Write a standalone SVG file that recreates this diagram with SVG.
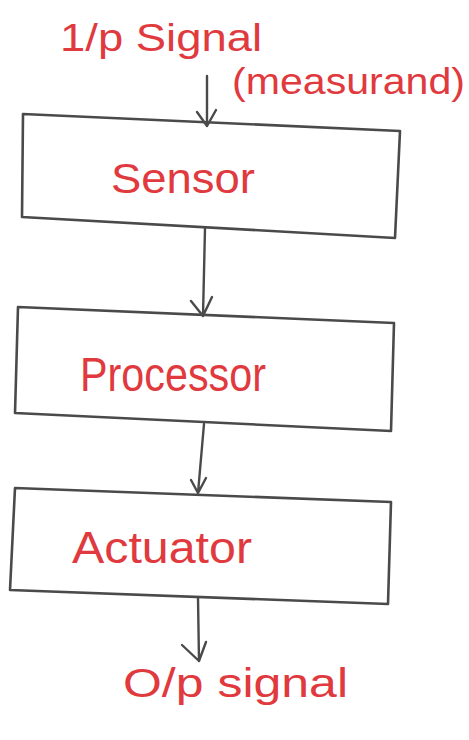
<svg xmlns="http://www.w3.org/2000/svg" width="469" height="740" viewBox="0 0 469 740">
  <style>
    .box { fill: #ffffff; stroke: #4a4a4a; stroke-width: 2.6; stroke-linejoin: round; }
    .wire { fill: none; stroke: #4a4a4a; stroke-width: 2.4; stroke-linecap: round; stroke-linejoin: round; }
    .lbl { fill: #e0393e; font-family: "Liberation Sans", "DejaVu Sans", sans-serif; }
  </style>
  <rect width="469" height="740" fill="#ffffff"/>

  <!-- input / output labels -->
  <text class="lbl" x="60" y="51" font-size="38" textLength="202" lengthAdjust="spacingAndGlyphs">1/p Signal</text>
  <text class="lbl" x="232" y="94" font-size="36" textLength="233" lengthAdjust="spacingAndGlyphs">(measurand)</text>

  <!-- Sensor -->
  <g id="sensor">
    <path class="box" d="M23,114 L400,131 L395,238 L22,217 Z"/>
    <text class="lbl" x="111" y="193" font-size="42" textLength="144" lengthAdjust="spacingAndGlyphs">Sensor</text>
  </g>

  <!-- Processor -->
  <g id="processor">
    <path class="box" d="M18,307 L394,323 L391,431 L15,413 Z"/>
    <text class="lbl" x="80" y="391" font-size="48" textLength="186" lengthAdjust="spacingAndGlyphs">Processor</text>
  </g>

  <!-- Actuator -->
  <g id="actuator">
    <path class="box" d="M15,488 L391,502 L388,604 L10,590 Z"/>
    <text class="lbl" x="72" y="563" font-size="44" textLength="180" lengthAdjust="spacingAndGlyphs">Actuator</text>
  </g>

  <text class="lbl" x="123" y="697" font-size="40" textLength="225" lengthAdjust="spacingAndGlyphs">O/p signal</text>

  <!-- connectors -->
  <g id="connectors">
    <path class="wire" d="M207,76 L207,126 M197,112 L207,126 L216,110"/>
    <path class="wire" d="M205,228 L203,316 M191,301 L203,316 L212,297"/>
    <path class="wire" d="M204,424 L198,493 M191,480 L198,493 L206,478"/>
    <path class="wire" d="M198,598 L199,661 M182,645 L199,661 L206,642"/>
  </g>
</svg>
